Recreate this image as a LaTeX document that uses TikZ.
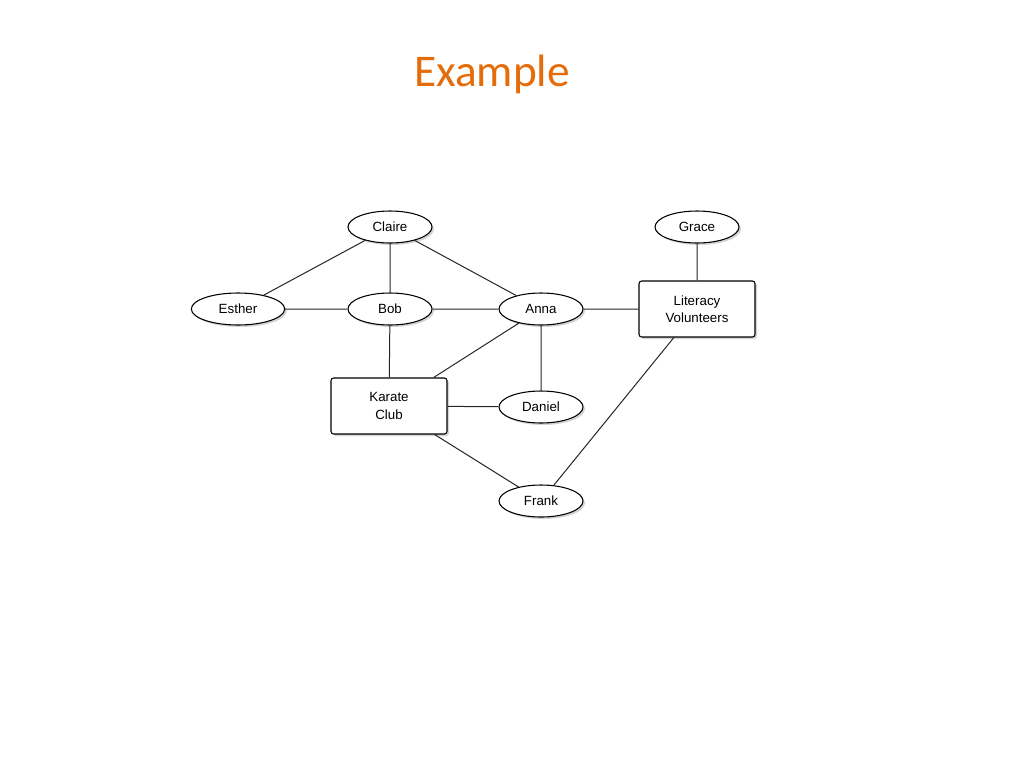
\documentclass[tikz,border=0pt]{standalone}
\usepackage{fontspec}
\setmainfont{Liberation Sans}
\newfontfamily\titlefont{Carlito}
\usetikzlibrary{shapes.geometric,shadows}
\definecolor{ttl}{HTML}{E46C0A}
\tikzset{
  person/.style={ellipse,draw,thick,fill=white,minimum width=63pt,minimum height=24pt,inner sep=0pt,font=\fontsize{10}{11}\selectfont,drop shadow={shadow xshift=1.5pt,shadow yshift=-1.5pt,opacity=0.35}},
  group/.style={rectangle,draw,thick,rounded corners=2pt,fill=white,minimum width=87pt,minimum height=42pt,align=center,inner sep=0pt,font=\fontsize{10}{13}\selectfont,drop shadow={shadow xshift=1.5pt,shadow yshift=-1.5pt,opacity=0.35}},
  link/.style={draw=black!85,line width=0.75pt}
}
\begin{document}
\begin{tikzpicture}[x=0.75pt,y=-0.75pt]
\useasboundingbox (0,0) rectangle (1024,768);
\node[text=ttl,font=\titlefont\fontsize{34}{38}\selectfont] (title) at (492,74) {Example};
\node[person] (claire) at (390,227) {Claire};
\node[person,minimum width=70pt] (esther) at (238,309) {Esther};
\node[person] (bob) at (390,309) {Bob};
\node[person] (anna) at (541,309) {Anna};
\node[person] (grace) at (697,227) {Grace};
\node[group] (lit) at (697,309) {Literacy\\Volunteers};
\node[group] (karate) at (389,406) {Karate\\Club};
\node[person] (daniel) at (541,407) {Daniel};
\node[person] (frank) at (541,501) {Frank};
\path[link] (claire) -- (esther) (claire) -- (bob) (claire) -- (anna)
 (esther) -- (bob) (bob) -- (anna) (anna) -- (lit) (grace) -- (lit)
 (bob) -- (karate) (anna) -- (karate) (anna) -- (daniel) (karate) -- (daniel)
 (karate) -- (frank) (lit) -- (frank);
\end{tikzpicture}
\end{document}
